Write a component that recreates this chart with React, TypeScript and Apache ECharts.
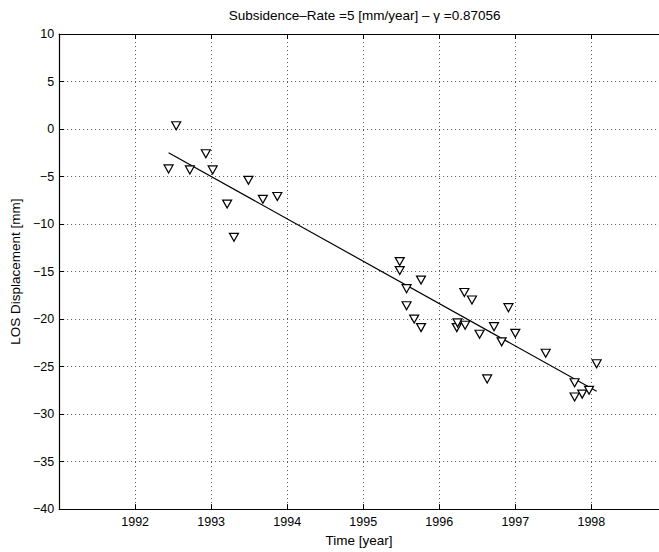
import React, { useEffect, useRef } from "react";
import * as echarts from "echarts";

const obsYears = [
  1992.44, 1992.54, 1992.72, 1992.93, 1993.02, 1993.21, 1993.30, 1993.49, 1993.68, 1993.87,
  1995.48, 1995.48, 1995.57, 1995.57, 1995.67, 1995.76, 1995.76,
  1996.23, 1996.24, 1996.33, 1996.34, 1996.43, 1996.53, 1996.63, 1996.72, 1996.82, 1996.91, 1997.0,
  1997.40, 1997.78, 1997.78, 1997.88, 1997.97, 1998.07,
];
const obsDisp = [
  -4.2, 0.35, -4.3, -2.6, -4.3, -7.9, -11.4, -5.4, -7.4, -7.1,
  -13.95, -14.9, -16.8, -18.6, -20.0, -15.9, -20.9,
  -20.9, -20.4, -17.2, -20.65, -18.0, -21.6, -26.3, -20.8, -22.4, -18.8, -21.5,
  -23.6, -26.7, -28.2, -27.9, -27.5, -24.7,
];
const fitYears = [1992.44, 1998.07];
const fitDisp = [-2.5, -27.6];

const titleText = "Subsidence\u2013Rate =5 [mm/year] \u2013 \u03b3 =0.87056";
const xName = "Time [year]";
const yName = "LOS Displacement [mm]";

const FONT = "'Liberation Sans', Arial, Helvetica, sans-serif";

export default function App() {
  const ref = useRef<HTMLDivElement>(null);
  useEffect(() => {
    document.body.style.margin = "0";
    document.body.style.overflow = "hidden";
    if (!ref.current) return;
    const chart = echarts.init(ref.current, undefined, { renderer: "svg" });
    const gridLeft = 56;
    const gridTop = 34;
    const gridH = 485;
    const xMin = 1991;
    const xMax = 1998.89;
    const plotCenter = gridLeft + (1999 - xMin) * 76.4 / 2;
    const dotted = { color: "#555", width: 1, type: [1, 3] as any };
    const axisLine = { show: true, onZero: false, lineStyle: { color: "#000", width: 1.2 } };
    const tickStyle = { show: true, inside: true, length: 5, lineStyle: { color: "#000", width: 1 } };
    chart.setOption({
      animation: false,
      backgroundColor: "#fff",
      textStyle: { fontFamily: FONT },
      title: {
        text: titleText,
        left: plotCenter - 2,
        textAlign: "center",
        top: 3,
        textStyle: { fontSize: 13.5, fontWeight: "normal", color: "#000", fontFamily: FONT },
      },
      grid: { left: gridLeft, top: gridTop, right: 0, height: gridH, containLabel: false },
      xAxis: [
        {
          type: "value",
          min: xMin,
          max: xMax,
          interval: 1,
          position: "bottom",
          name: xName,
          nameLocation: "middle",
          nameGap: 20,
          nameTextStyle: { fontSize: 13.5, color: "#000", fontFamily: FONT },
          axisLine,
          axisTick: tickStyle,
          axisLabel: {
            color: "#000",
            fontSize: 12.5,
            margin: 6,
            showMinLabel: false,
            showMaxLabel: false,
            fontFamily: FONT,
            formatter: (v: number) => String(v),
          },
          splitLine: { show: true, lineStyle: dotted },
        },
        {
          type: "value",
          min: xMin,
          max: xMax,
          interval: 1,
          position: "top",
          axisLine,
          axisTick: tickStyle,
          axisLabel: { show: false },
          splitLine: { show: false },
        },
      ],
      yAxis: [
        {
          type: "value",
          min: -40,
          max: 10,
          interval: 5,
          position: "left",
          name: yName,
          nameLocation: "middle",
          nameGap: 30,
          nameTextStyle: { fontSize: 13.5, color: "#000", fontFamily: FONT },
          axisLine,
          axisTick: tickStyle,
          axisLabel: {
            color: "#000",
            fontSize: 12.5,
            margin: 5,
            fontFamily: FONT,
            formatter: (v: number) => (v < 0 ? "\u2212" + Math.abs(v) : String(v)),
          },
          splitLine: { show: true, lineStyle: dotted },
        },
      ],
      series: [
        {
          type: "line",
          data: fitYears.map((x, i) => [x, fitDisp[i]]),
          showSymbol: false,
          symbol: "none",
          lineStyle: { color: "#000", width: 1.2 },
          silent: true,
          z: 3,
        },
        {
          type: "scatter",
          data: obsYears.map((x, i) => [x, obsDisp[i]]),
          symbol: "triangle",
          symbolRotate: 180,
          symbolSize: [9, 8],
          itemStyle: { color: "#fff", borderColor: "#000", borderWidth: 1.2, opacity: 1 },
          z: 4,
        },
      ],
    });
    return () => chart.dispose();
  }, []);
  return <div ref={ref} style={{ width: 659, height: 552, background: "#fff" }} />;
}
